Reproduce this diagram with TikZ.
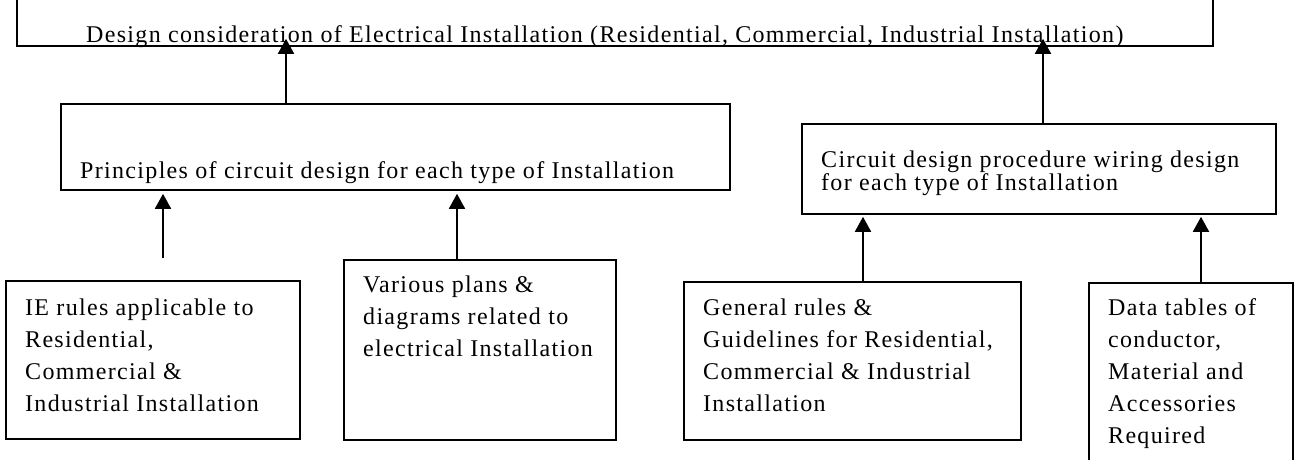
\documentclass[tikz,border=0pt]{standalone}
\usepackage{fontspec}
\setmainfont[LetterSpace=5.5]{Liberation Serif}
\usetikzlibrary{arrows.meta}
\newcommand\firstline{\rule{0pt}{24pt}}
\begin{document}
\begin{tikzpicture}[x=1pt,y=-1pt,
  box/.style={draw, line width=1.8pt, rectangle, inner sep=0pt, anchor=north west},
  lines/.style={inner sep=0pt, anchor=north west, align=left, font=\fontsize{24}{32}\selectfont},
  oneline/.style={inner sep=0pt, anchor=base west, font=\fontsize{24}{28}\selectfont},
  link/.style={line width=1.8pt, -{Triangle[width=16pt,length=15pt]}}]
\useasboundingbox (0,0) rectangle (1304,460);
\fill[white] (0,0) rectangle (1304,460);
\clip (0,0) rectangle (1304,460);

% boxes
\node[box, minimum width=1196pt, minimum height=75pt] (goal) at (16,-30) {};
\node[box, minimum width=669pt, minimum height=86pt] (princ) at (60,103) {};
\node[box, minimum width=474pt, minimum height=90pt] (proc) at (801,123) {};
\node[box, minimum width=294pt, minimum height=158pt] (ie) at (5,280) {};
\node[box, minimum width=272pt, minimum height=180pt] (plans) at (343,259) {};
\node[box, minimum width=337pt, minimum height=158pt] (rules) at (683,281) {};
\node[box, minimum width=204pt, minimum height=200pt] (tables) at (1088,282) {};

% texts
\node[oneline] (goaltext) at (86,43) {Design consideration of Electrical Installation (Residential, Commercial, Industrial Installation)};
\node[oneline] (princtext) at (80,178) {Principles of circuit design for each type of Installation};
\node[lines, font=\fontsize{24}{23}\selectfont] (proctext) at (821,143) {\firstline Circuit design procedure wiring design\\for each type of Installation};
\node[lines] (ietext) at (25,291) {\firstline IE rules applicable to\\Residential,\\Commercial \&\\Industrial Installation};
\node[lines] (planstext) at (363,268) {\firstline Various plans \&\\diagrams related to\\electrical Installation};
\node[lines] (rulestext) at (703,291) {\firstline General rules \&\\Guidelines for Residential,\\Commercial \& Industrial\\Installation};
\node[lines] (tablestext) at (1108,291) {\firstline Data tables of\\conductor,\\Material and\\Accessories\\Required};

% connectors
\coordinate (a1) at ([xshift=226pt]princ.north west);
\coordinate (a2) at ([xshift=242pt]proc.north west);
\coordinate (b1) at ([xshift=158pt]ie.north west);
\coordinate (b2) at ([xshift=114pt]plans.north west);
\coordinate (b3) at ([xshift=180pt]rules.north west);
\coordinate (b4) at ([xshift=113pt]tables.north west);
\draw[link, shorten >=-8pt] (a1) -- (a1 |- goal.south);
\draw[link, shorten >=-8pt] (a2) -- (a2 |- goal.south);
\draw[link, shorten <=22pt, shorten >=3pt] (b1) -- (b1 |- princ.south);
\draw[link, shorten >=3pt] (b2) -- (b2 |- princ.south);
\draw[link, shorten >=2pt] (b3) -- (b3 |- proc.south);
\draw[link, shorten >=2pt] (b4) -- (b4 |- proc.south);
\end{tikzpicture}
\end{document}
